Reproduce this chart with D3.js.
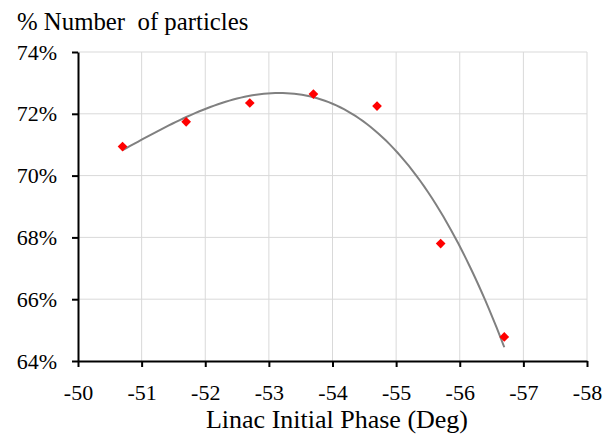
<!DOCTYPE html>
<html><head><meta charset="utf-8">
<script src="https://cdn.jsdelivr.net/npm/d3@7"></script>
<style>
body{margin:0;background:#fff}
svg{display:block}
svg text{font-family:"Liberation Serif" !important}
</style>
</head><body><svg id="c" width="612" height="437" font-family="Liberation Serif"></svg>
<script>
const phases = [-50.7, -51.7, -52.7, -53.7, -54.7, -55.7, -56.7];
const pctParticles = [70.94, 71.74, 72.35, 72.64, 72.25, 67.80, 64.78];
const xTicks = [-50, -51, -52, -53, -54, -55, -56, -57, -58];
const yTicks = [64, 66, 68, 70, 72, 74];

const svg = d3.select("#c");
const L = 78, R = 587, T = 52, B = 361;
const x = d3.scaleLinear().domain([-50, -58]).range([L, R]);
const y = d3.scaleLinear().domain([64, 74]).range([B, T]);
const FONT = "Liberation Serif";

// gridlines
svg.append("g").selectAll("line.v").data(xTicks.slice(1)).join("line")
  .attr("x1", d => x(d)).attr("x2", d => x(d)).attr("y1", T).attr("y2", B)
  .attr("stroke", "#d9d9d9").attr("stroke-width", 1);
svg.append("g").selectAll("line.h").data(yTicks.slice(1)).join("line")
  .attr("x1", L).attr("x2", R).attr("y1", d => y(d)).attr("y2", d => y(d))
  .attr("stroke", "#d9d9d9").attr("stroke-width", 1);

// cubic least-squares trendline from the data
function polyfit(xs, ys, n) {
  const m = n + 1;
  const A = Array.from({length: m}, () => new Array(m + 1).fill(0));
  for (let k = 0; k < xs.length; k++) {
    for (let i = 0; i < m; i++) {
      for (let j = 0; j < m; j++) A[i][j] += Math.pow(xs[k], i + j);
      A[i][m] += ys[k] * Math.pow(xs[k], i);
    }
  }
  for (let i = 0; i < m; i++) {
    let p = i;
    for (let r = i + 1; r < m; r++) if (Math.abs(A[r][i]) > Math.abs(A[p][i])) p = r;
    [A[i], A[p]] = [A[p], A[i]];
    for (let r = 0; r < m; r++) if (r !== i) {
      const f = A[r][i] / A[i][i];
      for (let c = i; c <= m; c++) A[r][c] -= f * A[i][c];
    }
  }
  return A.map((row, i) => row[m] / row[i]);
}
const x0 = d3.mean(phases);
const coef = polyfit(phases.map(v => v - x0), pctParticles, 3);
const fx = v => coef.reduce((s, c, i) => s + c * Math.pow(v - x0, i), 0);
const trend = d3.range(0, 101).map(i => {
  const v = phases[0] + (phases[phases.length - 1] - phases[0]) * i / 100;
  return [v, fx(v)];
});
svg.append("path").datum(trend)
  .attr("d", d3.line().x(d => x(d[0])).y(d => y(d[1])))
  .attr("fill", "none").attr("stroke", "#808080").attr("stroke-width", 2);

// points
svg.append("g").selectAll("path").data(phases).join("path")
  .attr("d", d3.symbol().type(d3.symbolDiamond2).size(60))
  .attr("transform", (d, i) => `translate(${x(d)},${y(pctParticles[i])})`)
  .attr("fill", "#ff0000");

// axes
const xAxis = svg.append("g").attr("transform", `translate(0,${B})`)
  .call(d3.axisBottom(x).tickValues(xTicks).tickSize(6).tickSizeOuter(0).tickPadding(10).tickFormat(d => d));
const yAxis = svg.append("g").attr("transform", `translate(${L},0)`)
  .call(d3.axisLeft(y).tickValues(yTicks).tickSize(6).tickSizeOuter(0).tickPadding(15).tickFormat(d => d + "%"));
[xAxis, yAxis].forEach(g => {
  g.attr("font-family", FONT).attr("font-size", 22);
  g.select(".domain").attr("stroke", "#000").attr("stroke-width", 2);
  g.selectAll(".tick line").attr("stroke", "#000").attr("stroke-width", 2);
  g.selectAll(".tick text").attr("fill", "#000").attr("font-family", FONT);
});
xAxis.selectAll(".tick text").attr("y", 39).attr("dy", 0);

svg.append("text").attr("x", 17).attr("y", 30).attr("font-family", FONT).attr("font-size", 24.8)
  .attr("fill", "#000").attr("xml:space", "preserve").text("% Number  of particles");
svg.append("text").attr("x", 337).attr("y", 428).attr("text-anchor", "middle").attr("font-family", FONT)
  .attr("font-size", 26).attr("fill", "#000").text("Linac Initial Phase (Deg)");
</script></body></html>
